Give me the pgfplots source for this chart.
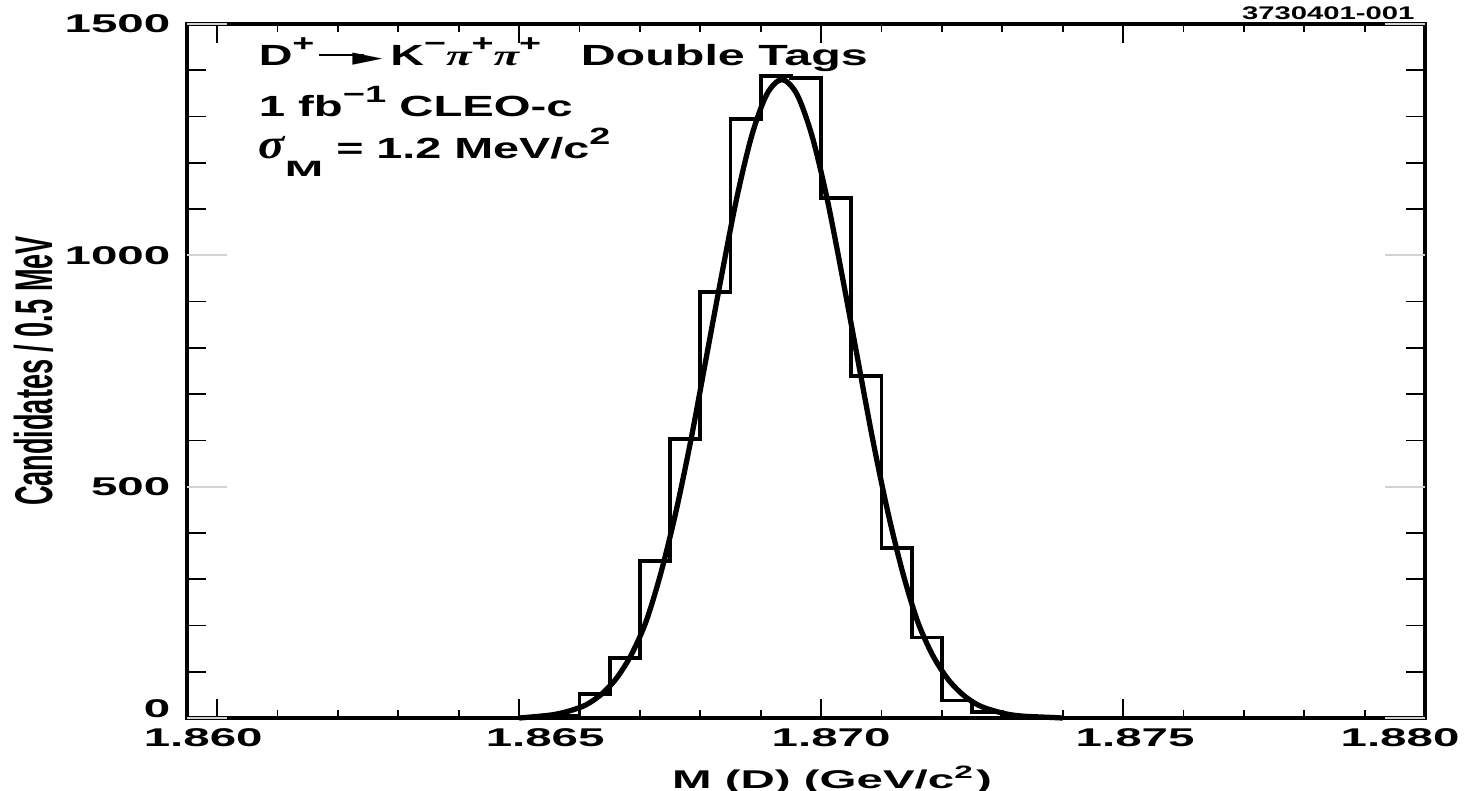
\documentclass[border=0pt]{standalone}
\usepackage{fontspec}
\setmainfont{Liberation Sans}
\newfontfamily\greekfont{Liberation Serif}
\newfontfamily\symfont{DejaVu Sans}
\usepackage{graphicx}
\usepackage{pgfplots}
\pgfplotsset{compat=1.18}

% tick/axis label text: bold, stretched sideways like the scanned figure
\newcommand\tl[1]{\scalebox{1.85}[1]{\fontsize{7.3}{8}\selectfont\bfseries #1}}
% annotation text
\newcommand\tx[2]{\scalebox{#1}[1]{\fontsize{8.3}{10}\selectfont\bfseries #2}}
\newcommand\gk[1]{{\greekfont\bfseries\itshape #1}}
\newcommand\sups[1]{\raisebox{1.4mm}{\fontsize{6.7}{7}\selectfont #1}}
\newcommand\sarrow{\kern0.1em\rule[0.33em]{2.8mm}{0.6pt}\kern-0.25em\raisebox{0.02em}{\symfont\fontsize{7}{8}\selectfont ►}}

\begin{document}
\begin{tikzpicture}
\begin{axis}[
  at={(0,0)}, anchor=south west,
  scale only axis, width=12.38cm, height=6.94cm,
  xmin=1.8595, xmax=1.8800, ymin=0, ymax=1500,
  clip=false,
  axis line style={line width=1.4pt},
  tick align=inside,
  tick style={black, line width=0.5pt},
  major tick length=1.9mm, minor tick length=0.8mm,
  scaled x ticks=false, scaled y ticks=false,
  xtick={1.86,1.865,1.87,1.875,1.88},
  xticklabels={{\tl{1.860}\hspace*{2.8mm}},{\hspace*{5.2mm}\tl{1.865}},{\hspace*{2mm}\tl{1.870}},{\hspace*{2.4mm}\tl{1.875}},{\tl{1.880}\hspace*{5mm}}},
  minor x tick num=4,
  ytick={100,200,300,400,600,700,800,900,1100,1200,1300,1400},
  yticklabels={},
  extra y ticks={0,500,1000,1500},
  extra y tick labels={\raisebox{1.8mm}{\tl{0}},\tl{500},\tl{1000},\tl{1500}},
  extra y tick style={major tick length=4mm, major tick style={draw=gray!35}},
  xticklabel style={inner sep=0pt, anchor=north, yshift=-1mm},
  yticklabel style={inner sep=0pt, anchor=east, xshift=-1.6mm},
  xlabel={\tl{M (D) (GeV/c\textsuperscript{2})}},
  xlabel style={at={(axis description cs:0.521,0)}, anchor=north, inner sep=0pt, yshift=-4.7mm},
  ylabel={\scalebox{0.772}[1.51]{\fontsize{10}{12}\selectfont\bfseries Candidates / 0.5 MeV}},
  ylabel style={at={(axis description cs:-0.1236,0.5)}, anchor=center, inner sep=0pt},
]
% histogram, 0.5 MeV bins (left edges)
\addplot[const plot, black, line width=1.1pt] coordinates {
  (1.8655,0) (1.8655,4) (1.8660,52) (1.8665,130) (1.8670,340) (1.8675,603)
  (1.8680,921) (1.8685,1294) (1.8690,1388) (1.8695,1384) (1.8700,1124)
  (1.8705,740) (1.8710,368) (1.8715,174) (1.8720,38) (1.8725,13)
  (1.8730,4) (1.8735,0)
};
% fitted curve
\addplot[smooth, black, line width=1.5pt] coordinates {
  (1.86500,0) (1.86535,4) (1.86560,8) (1.86585,16) (1.86610,28) (1.86635,50)
  (1.86660,84) (1.86685,135) (1.86710,208) (1.86735,315) (1.86760,448)
  (1.86785,605) (1.86810,780) (1.86835,955) (1.86860,1122) (1.86885,1258)
  (1.86910,1348) (1.86935,1380) (1.86960,1348) (1.86985,1258) (1.87010,1122)
  (1.87035,955) (1.87060,780) (1.87085,605) (1.87110,448) (1.87135,315)
  (1.87160,208) (1.87185,135) (1.87210,84) (1.87235,50) (1.87260,28)
  (1.87285,16) (1.87310,8) (1.87335,4) (1.87385,1) (1.87400,0)
};
\node[anchor=base west, inner sep=0pt] at (axis description cs:0.0574,0.9395)
  {\tx{1.6}{D\sups{+}\sarrow\,K\sups{−}\gk{π}\sups{+}\gk{π}\sups{+}}};
\node[anchor=base west, inner sep=0pt] at (axis description cs:0.3175,0.9395)
  {\tx{1.66}{Double Tags}};
\node[anchor=base west, inner sep=0pt] at (axis description cs:0.0574,0.867)
  {\tx{1.62}{1 fb\sups{−1} CLEO-c}};
\node[anchor=base west, inner sep=0pt] at (axis description cs:0.0574,0.806)
  {\tx{1.6}{\scalebox{0.72}[1]{\fontsize{12}{13}\selectfont\gk{σ}}\raisebox{-1.8mm}{\scalebox{1.3}[1]{\fontsize{6.3}{7}\selectfont M}} = 1.2 MeV/c\sups{2}}};
\node[anchor=base east, inner sep=0pt] at (axis description cs:0.992,1.0058)
  {\scalebox{1.6}[1]{\fontsize{5.2}{6}\selectfont\bfseries 3730401-001}};
\end{axis}
\pgfresetboundingbox
\useasboundingbox (-1.87,-0.72) rectangle (12.77,7.18);
\end{tikzpicture}
\end{document}
